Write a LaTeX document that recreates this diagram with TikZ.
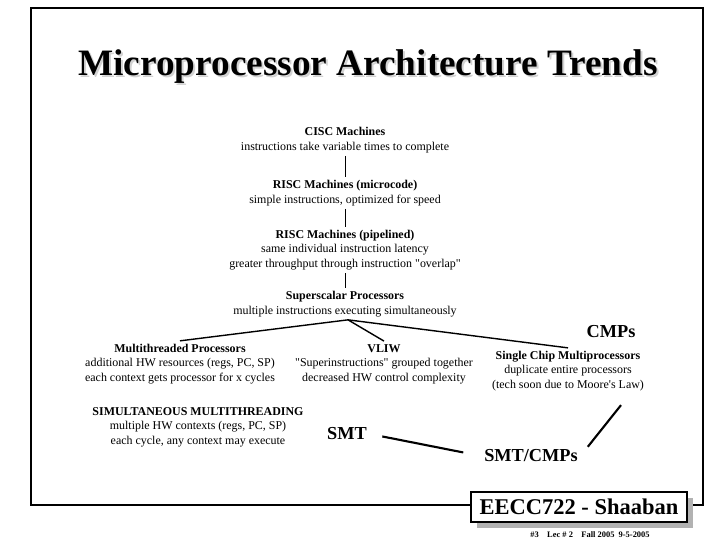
\documentclass[tikz,border=0pt]{standalone}
\usepackage{fontspec}
\setmainfont{Liberation Serif}
\usetikzlibrary{positioning, calc, shadows}

\begin{document}
\begin{tikzpicture}[
    x=0.25mm, y=-0.25mm,
    trend/.style={align=center, inner sep=2pt, font=\fontsize{8.5}{10.4}\selectfont},
    tag/.style={inner sep=2pt, font=\fontsize{13}{15}\selectfont\bfseries},
    link/.style={line width=0.6pt},
    branch/.style={line width=1pt},
    smtlink/.style={line width=1.5pt},
]
    \useasboundingbox (0,0) rectangle (720,540);
    \draw[line width=2pt] (31,8) rectangle (703,505);

    % slide title
    \node[gray!35, font=\fontsize{26.5}{30}\selectfont\bfseries] (titleshadow) at (370,69) {Microprocessor Architecture Trends};
    \node[font=\fontsize{26.5}{30}\selectfont\bfseries] (title) at (368,67) {Microprocessor Architecture Trends};

    % main line of development
    \node[trend] (cisc) at (345,140) {\textbf{CISC Machines}\\instructions take variable times to complete};
    \node[trend] (riscmc) at (345,193) {\textbf{RISC Machines (microcode)}\\simple instructions, optimized for speed};
    \node[trend] (riscpipe) at (345,250) {\textbf{RISC Machines (pipelined)}\\same individual instruction latency\\greater throughput through instruction \textquotedbl overlap\textquotedbl};
    \node[trend] (superscalar) at (345,304) {\textbf{Superscalar Processors}\\multiple instructions executing simultaneously};

    \draw[link] (cisc) -- (riscmc);
    \draw[link] (riscmc) -- (riscpipe);
    \draw[link] (riscpipe) -- (superscalar);

    % three branches
    \node[trend] (multithread) at (180,364) {\textbf{Multithreaded Processors}\\additional HW resources (regs, PC, SP)\\each context gets processor for x cycles};
    \node[trend] (vliw) at (384,364) {\textbf{VLIW}\\\textquotedbl Superinstructions\textquotedbl{} grouped together\\decreased HW control complexity};
    \node[trend] (scmp) at (568,371) {\textbf{Single Chip Multiprocessors}\\duplicate entire processors\\(tech soon due to Moore\textquotesingle s Law)};
    \node[tag] (cmps) at (611,332) {CMPs};

    \coordinate (split) at ($(superscalar.south)+(3,0)$);
    \draw[branch] (split) -- (multithread.north);
    \draw[branch] (split) -- (vliw.north);
    \draw[branch] (split) -- (scmp.north);

    % SMT
    \node[trend] (smtdesc) at (198,427) {\textbf{SIMULTANEOUS MULTITHREADING}\\multiple HW contexts (regs, PC, SP)\\each cycle, any context may execute};
    \node[tag] (smt) at (347,434) {SMT};
    \node[tag] (smtcmps) at (531,456) {SMT/CMPs};

    \draw[smtlink, shorten <=9pt, shorten >=13pt] (smt.east) -- (smtcmps.west);
    \draw[smtlink] ($(scmp.south)+(53,11)$) -- ($(smtcmps.north east)+(7,0)$);

    % footer
    \node[draw, line width=1.2pt, fill=white, minimum width=54mm, minimum height=7.5mm,
          drop shadow={shadow xshift=1.6mm, shadow yshift=-1.6mm, fill=gray!60, opacity=1},
          font=\fontsize{16}{18}\selectfont\bfseries] (badge) at (579,507) {EECC722 - Shaaban};
    \node[font=\fontsize{6}{7}\selectfont\bfseries] (pageinfo) at (590,535) {\#3\quad Lec \# 2\quad Fall 2005\enspace 9-5-2005};
\end{tikzpicture}
\end{document}
